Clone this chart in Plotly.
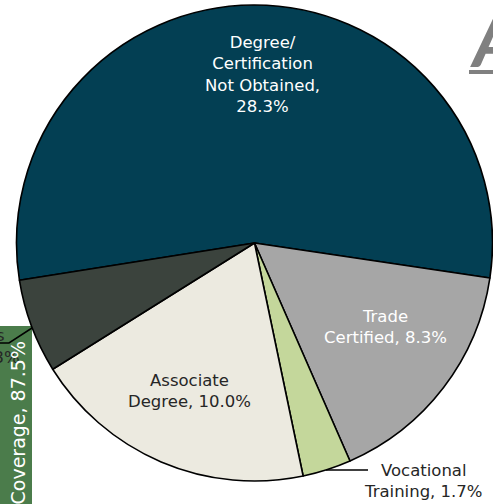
import plotly.graph_objects as go

# ---- data ----
categories = ["Degree/Certification Not Obtained", "Trade Certified",
              "Vocational Training", "Associate Degree", "Bachelor's Degree or Higher"]
label_lines = [["Degree/", "Certification", "Not Obtained,"],
               ["Trade", "Certified,"],
               ["Vocational", "Training,"],
               ["Associate", "Degree,"],
               ["Bachelor's", "Degree or Higher,"]]
values = [28.3, 8.3, 1.7, 10.0, 3.3]
colors = ["#033F53", "#A6A6A6", "#C4D79B", "#ECEAE0", "#3B433D"]
coverage_label = "Coverage"
coverage_value = 87.5

W, H = 493, 504
FONT = "DejaVu Sans"
FS = 16.5


def px(x):
    return x / W


def py(y):
    return 1 - y / H


fig = go.Figure()
fig.add_trace(go.Pie(
    labels=categories, values=values, sort=False, direction="clockwise",
    rotation=261, textinfo="none", hoverinfo="label+value",
    marker=dict(colors=colors, line=dict(color="#000000", width=1.6)),
    domain=dict(x=[px(16.5), px(492.5)], y=[py(481), py(5)]),
    showlegend=False,
))


def label_text(i, percent_on_new_line=False):
    lines = label_lines[i]
    pct = f"{values[i]:.1f}%"
    if percent_on_new_line:
        return "<br>".join(lines + [pct])
    return "<br>".join(lines[:-1] + [lines[-1] + " " + pct])


annotations = []
annotations.append(dict(x=px(262), y=py(74), text=label_text(0, True),
                        font=dict(color="#FFFFFF", size=FS, family=FONT)))
annotations.append(dict(x=px(385), y=py(327), text=label_text(1),
                        font=dict(color="#FFFFFF", size=FS, family=FONT)))
annotations.append(dict(x=px(189), y=py(391), text=label_text(3),
                        font=dict(color="#262626", size=FS, family=FONT)))
annotations.append(dict(x=px(423), y=py(481), text=label_text(2),
                        font=dict(color="#262626", size=FS, family=FONT)))
# outside label of the small dark slice (mostly cropped at the left edge)
annotations.append(dict(x=px(7), y=py(335), xanchor="right", text=label_lines[4][0],
                        font=dict(color="#262626", size=FS, family=FONT)))
annotations.append(dict(x=px(22), y=py(357), xanchor="right",
                        text=f"{label_lines[4][1]} {values[4]:.1f}%",
                        font=dict(color="#262626", size=FS, family=FONT)))
annotations.append(dict(x=px(17), y=py(340), xanchor="center", yanchor="top",
                        textangle=-90, text=f"{coverage_label}, {coverage_value:.1f}%",
                        font=dict(color="#FFFFFF", size=19, family=FONT)))
annotations.append(dict(x=px(468), y=py(-6), xanchor="left", yanchor="top",
                        text="<i><b>A</b></i>",
                        font=dict(color="#808080", size=72, family="Lato")))
for a in annotations:
    a.update(xref="paper", yref="paper", showarrow=False)
    a.setdefault("xanchor", "center")
    a.setdefault("yanchor", "middle")

shapes = [
    dict(type="rect", xref="paper", yref="paper", x0=px(-10), x1=px(32),
         y0=py(326), y1=py(520), fillcolor="#4B7C4B", line=dict(width=0), layer="below"),
    dict(type="line", xref="paper", yref="paper", x0=px(326), y0=py(470),
         x1=px(368), y1=py(470), line=dict(color="#000000", width=1.5)),
    dict(type="path", xref="paper", yref="paper",
         path=f"M {px(32)} {py(328)} L {px(9)} {py(343)} L {px(-5)} {py(343)}",
         line=dict(color="#000000", width=1.5)),
    dict(type="line", xref="paper", yref="paper", x0=px(469), y0=py(72),
         x1=px(500), y1=py(72), line=dict(color="#808080", width=4)),
]

fig.update_layout(
    width=W, height=H, margin=dict(l=0, r=0, t=0, b=0),
    paper_bgcolor="#FFFFFF", plot_bgcolor="#FFFFFF",
    annotations=annotations, shapes=shapes,
)
fig.write_html("out.html", config={"displayModeBar": False},
               post_script="document.body.style.margin='0';"
                           "document.body.style.overflow='hidden';")
